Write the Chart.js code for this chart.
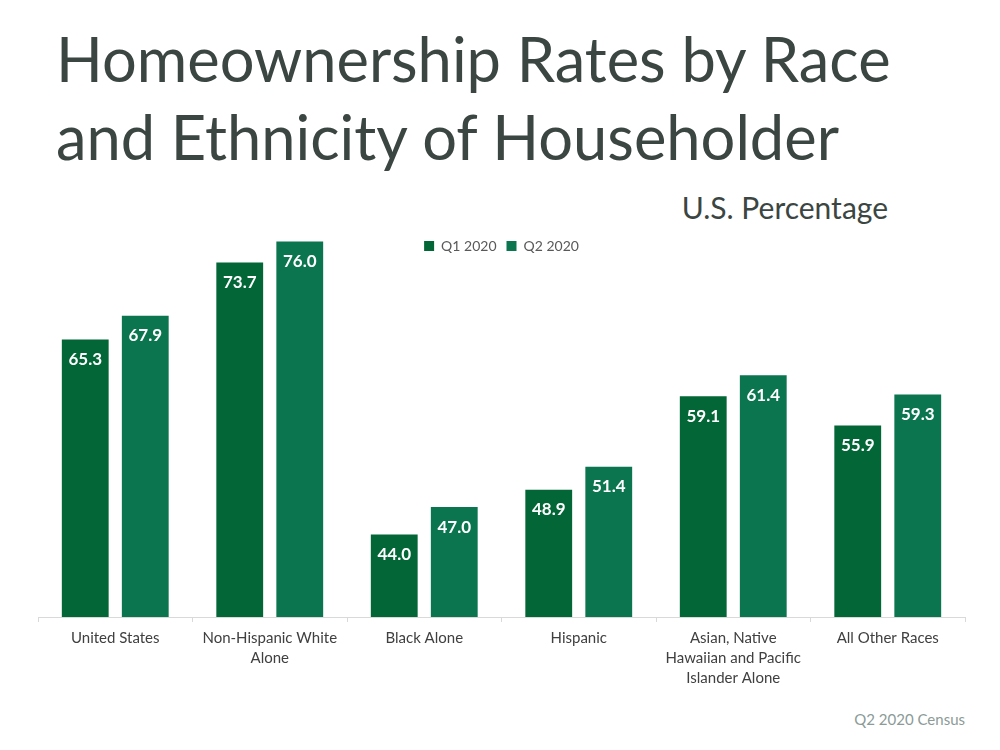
<!DOCTYPE html>
<html>
<head>
<meta charset="utf-8">
<title>Homeownership Rates by Race and Ethnicity of Householder</title>
<script src="https://cdn.jsdelivr.net/npm/chart.js@4.4.1/dist/chart.umd.min.js"></script>
<style>
  html, body { margin: 0; padding: 0; background: #fff; }
  #wrap { position: relative; width: 1000px; height: 750px; overflow: hidden; font-family: Lato, 'Open Sans', sans-serif; }
  #chart { position: absolute; left: 0; top: 0; }
  .title { position: absolute; left: 56px; top: 19px; margin: 0; font-weight: normal; font-size: 61.4px; line-height: 78px; color: #3b4642; white-space: nowrap; }
  .sub { position: absolute; right: 112px; top: 189px; font-size: 30px; color: #3b4642; }
  .foot { position: absolute; right: 35px; top: 710px; font-size: 15px; color: #8b9b97; }
</style>
</head>
<body>
<div id="wrap">
  <h1 class="title">Homeownership Rates by Race<br>and Ethnicity of Householder</h1>
  <div class="sub">U.S. Percentage</div>
  <div class="foot">Q2 2020 Census</div>
  <canvas id="chart" width="1000" height="750"></canvas>
</div>
<script>
// Homeownership by race - Q1 vs Q2 2020
const categories = [
  ['United States'],
  ['Non-Hispanic White', 'Alone'],
  ['Black Alone'],
  ['Hispanic'],
  ['Asian, Native', 'Hawaiian and Pacific', 'Islander Alone'],
  ['All Other Races']
];
const seriesNames = ['Q1 2020', 'Q2 2020'];
const q1Values = [65.3, 73.7, 44.0, 48.9, 59.1, 55.9];
const q2Values = [67.9, 76.0, 47.0, 51.4, 61.4, 59.3];

const q1Color = '#036636';
const q2Color = '#0b7550';

// bars may rise above the plot top (legend row), but not below the axis
const barClip = { left: 0, top: false, right: 0, bottom: 0 };

// white value labels just inside the top of each bar
const barLabels = {
  id: 'barLabels',
  afterDatasetsDraw(chart) {
    const ctx = chart.ctx;
    ctx.save();
    ctx.fillStyle = '#ffffff';
    ctx.font = 'bold 17px Lato, "Open Sans", sans-serif';
    ctx.textAlign = 'center';
    ctx.textBaseline = 'middle';
    chart.data.datasets.forEach((ds, i) => {
      chart.getDatasetMeta(i).data.forEach((bar, j) => {
        ctx.fillText(ds.data[j].toFixed(1), bar.x, bar.y + 20);
      });
    });
    ctx.restore();
  }
};

function initChart() {
  if (typeof window.Chart === 'undefined') return;
  Chart.defaults.font.family = 'Lato, "Open Sans", sans-serif';
  const ctx = document.getElementById('chart').getContext('2d');
  new Chart(ctx, {
    type: 'bar',
    data: {
      labels: categories,
      datasets: [
        { label: seriesNames[0], data: q1Values, backgroundColor: q1Color, borderWidth: 0, clip: barClip },
        { label: seriesNames[1], data: q2Values, backgroundColor: q2Color, borderWidth: 0, clip: barClip }
      ]
    },
    options: {
      responsive: false,
      animation: false,
      devicePixelRatio: 1,
      categoryPercentage: 0.777,
      barPercentage: 0.78,
      layout: { padding: { left: 38, right: 35, top: 229, bottom: 13 } },
      plugins: {
        legend: {
          display: true,
          position: 'top',
          align: 'center',
          labels: { boxWidth: 10, boxHeight: 10, color: '#595959', font: { size: 14 }, padding: 10 }
        },
        tooltip: { enabled: false }
      },
      scales: {
        x: {
          grid: { display: true, drawOnChartArea: false, offset: true, tickLength: 5, color: '#d9d9d9' },
          border: { color: '#d9d9d9' },
          ticks: { color: '#404040', font: { size: 15, lineHeight: 1.35 }, padding: 6, maxRotation: 0, autoSkip: false },
          afterFit: (s) => { s.height = 120; }
        },
        y: { display: false, min: 35, max: 73.65 }
      }
    },
    plugins: [barLabels]
  });
}

initChart();
</script>
</body>
</html>
